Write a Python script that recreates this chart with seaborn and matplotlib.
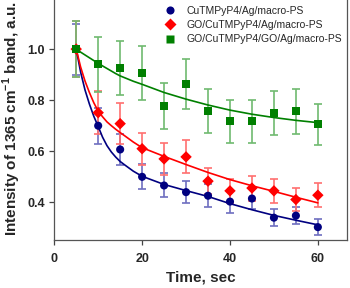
import numpy as np
import pandas as pd
import seaborn as sns
import matplotlib
matplotlib.use("Agg")
import matplotlib.pyplot as plt

# measured points (time, sec)
time = [5, 10, 15, 20, 25, 30, 35, 40, 45, 50, 55, 60]
labels = ["CuTMPyP4/Ag/macro-PS", "GO/CuTMPyP4/Ag/macro-PS", "GO/CuTMPyP4/GO/Ag/macro-PS"]

blue_y = [1.0, 0.70, 0.607, 0.50, 0.466, 0.44, 0.426, 0.403, 0.415, 0.34, 0.348, 0.303]
blue_err = [0.10, 0.07, 0.061, 0.049, 0.047, 0.044, 0.046, 0.044, 0.04, 0.033, 0.033, 0.031]
red_y = [1.0, 0.751, 0.708, 0.61, 0.57, 0.578, 0.483, 0.445, 0.456, 0.445, 0.411, 0.428]
red_err = [0.11, 0.085, 0.08, 0.063, 0.062, 0.065, 0.05, 0.047, 0.049, 0.047, 0.044, 0.048]
green_y = [1.0, 0.941, 0.927, 0.906, 0.777, 0.862, 0.758, 0.718, 0.718, 0.749, 0.756, 0.705]
green_err = [0.11, 0.108, 0.105, 0.105, 0.09, 0.098, 0.087, 0.084, 0.084, 0.086, 0.087, 0.081]

# fitted decay curves
fit_x = [5, 6, 7, 8, 9, 10, 11, 12, 13, 14, 15, 16, 18, 20, 25, 30, 35, 40, 45, 50, 55, 60]
blue_fit = [1.0, 0.91, 0.84, 0.785, 0.737, 0.697, 0.655, 0.622, 0.597, 0.577, 0.56, 0.547,
            0.522, 0.502, 0.47, 0.446, 0.423, 0.395, 0.371, 0.349, 0.33, 0.312]
red_fit = [1.0, 0.93, 0.875, 0.83, 0.79, 0.757, 0.735, 0.715, 0.70, 0.686, 0.673, 0.661,
           0.636, 0.614, 0.58, 0.548, 0.517, 0.489, 0.465, 0.443, 0.42, 0.398]
green_fit = [1.0, 0.988, 0.977, 0.966, 0.955, 0.945, 0.934, 0.924, 0.914, 0.904, 0.895, 0.888,
             0.874, 0.862, 0.83, 0.804, 0.781, 0.761, 0.745, 0.732, 0.721, 0.712]

line_cols = ["#000080", "#FF0000", "#008000"]
err_cols = ["#6E6EC0", "#FF7070", "#70BA70"]
markers = ["o", "D", "s"]

sns.set_style("ticks")
plt.rcParams["font.family"] = ["Liberation Sans", "DejaVu Sans"]
plt.rcParams["mathtext.fontset"] = "custom"
plt.rcParams["mathtext.rm"] = "Liberation Sans"
plt.rcParams["mathtext.bf"] = "Liberation Sans:bold"

pts = pd.DataFrame({
    "Time": time * 3,
    "Intensity": blue_y + red_y + green_y,
    "Err": blue_err + red_err + green_err,
    "Sample": sum([[l] * len(time) for l in labels], []),
})
fits = pd.DataFrame({
    "Time": fit_x * 3,
    "Intensity": blue_fit + red_fit + green_fit,
    "Sample": sum([[l] * len(fit_x) for l in labels], []),
})

fig = plt.figure(figsize=(3.5, 2.88), dpi=100)
ax = fig.add_axes([0.155, 0.167, 0.836, 0.84])

sns.lineplot(data=fits, x="Time", y="Intensity", hue="Sample", palette=line_cols,
             linewidth=1.2, legend=False, ax=ax, zorder=2)

for i, lab in enumerate(labels):
    d = pts[pts["Sample"] == lab]
    ax.errorbar(d["Time"], d["Intensity"], yerr=d["Err"], fmt="none", ecolor=err_cols[i],
                elinewidth=1.2, capsize=2.6, capthick=1.2, zorder=1)

sns.scatterplot(data=pts, x="Time", y="Intensity", hue="Sample", style="Sample",
                palette=line_cols, markers=markers, s=34, edgecolor="none",
                ax=ax, zorder=3)

ax.set_xlim(0, 66.6)
ax.set_ylim(0.253, 1.2)
ax.set_xticks([0, 20, 40, 60])
ax.set_yticks([0.4, 0.6, 0.8, 1.0])
ax.set_yticklabels(["0.4", "0.6", "0.8", "1.0"])
ax.tick_params(direction="out", length=3.5, width=0.9, labelsize=9, color="#444444")
ax.tick_params(axis="x", pad=6)
ax.tick_params(axis="y", pad=3)
for t in ax.get_xticklabels() + ax.get_yticklabels():
    t.set_fontweight("bold")

ax.spines["top"].set_visible(False)
for s in ["left", "right", "bottom"]:
    ax.spines[s].set_color("#555555")
    ax.spines[s].set_linewidth(0.9)

ax.set_xlabel("Time, sec", fontsize=11, fontweight="bold", labelpad=4)
ax.set_ylabel(r"Intensity of 1365 cm$^{\mathbf{-1}}$ band, a.u.", fontsize=11,
              fontweight="bold", labelpad=3)

leg = ax.legend(loc="upper right", bbox_to_anchor=(1.0, 0.99), frameon=False, fontsize=7.5,
                handletextpad=0.5, labelspacing=0.42, borderaxespad=0.1, markerscale=1.0)

fig.savefig("out.png", dpi=100)
